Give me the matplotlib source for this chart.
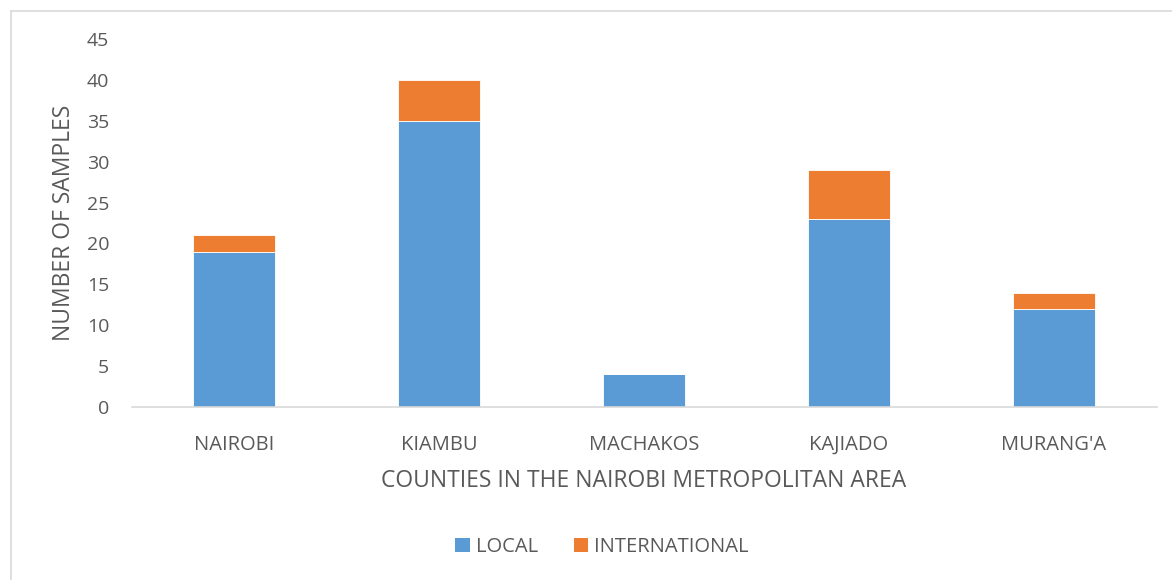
import matplotlib
matplotlib.use("Agg")
import matplotlib.pyplot as plt
from matplotlib.lines import Line2D
from matplotlib.patches import Patch

counties = ["NAIROBI", "KIAMBU", "MACHAKOS", "KAJIADO", "MURANG'A"]
local = [19, 35, 4, 23, 12]
international = [2, 5, 0, 6, 2]
yticks = [0, 5, 10, 15, 20, 25, 30, 35, 40, 45]

plt.rcParams['font.family'] = ['Open Sans', 'DejaVu Sans']
txt = '#595959'
blue = '#5B9BD5'
orange = '#ED7D31'

fig = plt.figure(figsize=(11.72, 5.8), dpi=100)
ax = fig.add_axes([131.5/1172, 1-407/580, (1156.5-131.5)/1172, (407-39)/580])

x = list(range(len(counties)))
ax.bar(x, local, width=0.4, color=blue, edgecolor='white', linewidth=0.6, label='LOCAL', zorder=2)
ax.bar(x, international, width=0.4, bottom=local, color=orange, edgecolor='white', linewidth=0.6,
       label='INTERNATIONAL', zorder=2)

ax.set_xlim(-0.5, len(counties) - 0.5)
ax.set_ylim(0, 45)
ax.set_yticks(yticks)
ax.set_xticks(x)
ax.set_xticklabels(counties)
for s in ['top', 'right', 'left']:
    ax.spines[s].set_visible(False)
ax.spines['bottom'].set_color('#D9D9D9')
ax.spines['bottom'].set_linewidth(1.2)
ax.tick_params(axis='x', length=0, labelsize=14.5, colors=txt, pad=20)
ax.tick_params(axis='y', length=0, labelsize=14, colors=txt, pad=16)

ax.set_xlabel("COUNTIES IN THE NAIROBI METROPOLITAN AREA", fontsize=16.5, color=txt, labelpad=10)
ax.set_ylabel("NUMBER OF SAMPLES", fontsize=16.5, color=txt, labelpad=7.5)

handles = [Patch(facecolor=blue, label='LOCAL'), Patch(facecolor=orange, label='INTERNATIONAL')]
fig.legend(handles=handles, loc='center', bbox_to_anchor=(602/1172, 1-547/580), ncol=2,
           frameon=False, fontsize=14.5, labelcolor=txt, handlelength=0.7, handleheight=0.7,
           handletextpad=0.3, columnspacing=1.8)

# chart border
fig.add_artist(Line2D([11/1172, 11/1172], [0, 1-11/580], color='#D9D9D9', linewidth=1.2))
fig.add_artist(Line2D([11/1172, 1], [1-11/580, 1-11/580], color='#D9D9D9', linewidth=1.2))

fig.savefig("out.png", dpi=100)
